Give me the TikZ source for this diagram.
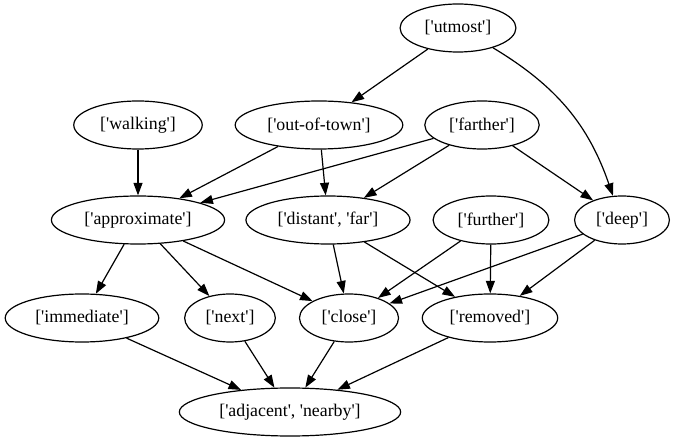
\documentclass[tikz,border=0pt]{standalone}
\usepackage{fontspec}
\setmainfont{Liberation Serif}[Ligatures=TeXOff]
\usetikzlibrary{shapes.geometric,arrows.meta}

\begin{document}
\begin{tikzpicture}[x=0.5pt,y=-0.5pt,
        word/.style={draw, ellipse, line width=0.6pt, inner xsep=3.8pt, inner ysep=0pt,
            minimum height=24pt, font=\fontsize{8.9}{10}\selectfont},
        link/.style={-{Triangle[length=6.3pt,width=4.5pt]}, line width=0.6pt}]
        \useasboundingbox (0,0) rectangle (675,443);

        % ~~~~ Palabras ~~~~%
        \node[word] (utmost) at (458,28) {['utmost']};
        \node[word] (walking) at (138,125) {['walking']};
        \node[word] (outoftown) at (319,125) {['out-of-town']};
        \node[word] (farther) at (482,125) {['farther']};
        \node[word] (approx) at (138,220) {['approximate']};
        \node[word] (distant) at (328,220) {['distant', 'far']};
        \node[word] (further) at (491,220) {['further']};
        \node[word] (deep) at (622,220) {['deep']};
        \node[word] (immediate) at (82,318) {['immediate']};
        \node[word] (next) at (230,318) {['next']};
        \node[word] (close) at (349,318) {['close']};
        \node[word] (removed) at (490,318) {['removed']};
        \node[word] (adjacent) at (290,412) {['adjacent', 'nearby']};

        % ~~~~ Enlaces ~~~~%
        \draw[link] (utmost) -- (outoftown);
        \draw[link] (utmost) to[bend left=20] (deep);
        \draw[link] (walking) -- (approx);
        \draw[link] (outoftown) -- (approx);
        \draw[link] (outoftown) -- (distant);
        \draw[link] (farther) -- (approx);
        \draw[link] (farther) -- (distant);
        \draw[link] (farther) -- (deep);

        \draw[link] (approx) -- (immediate);
        \draw[link] (approx) -- (next);
        \draw[link] (approx) -- (close);
        \draw[link] (distant) -- (close);
        \draw[link] (distant) -- (removed);
        \draw[link] (further) -- (close);
        \draw[link] (further) -- (removed);
        \draw[link] (deep) -- (close);
        \draw[link] (deep) -- (removed);

        \draw[link] (immediate) -- (adjacent);
        \draw[link] (next) -- (adjacent);
        \draw[link] (close) -- (adjacent);
        \draw[link] (removed) -- (adjacent);
    \end{tikzpicture}
\end{document}
